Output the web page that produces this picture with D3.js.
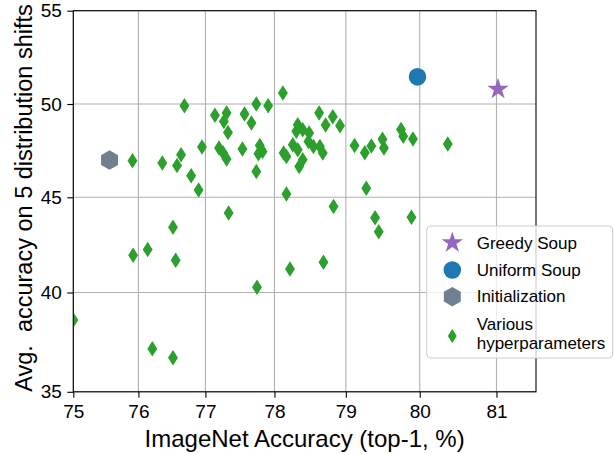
<!DOCTYPE html>
<html><head><meta charset="utf-8">
<script src="https://cdn.jsdelivr.net/npm/d3@7"></script>
<style>
body{margin:0;background:#fff}
svg{display:block}
text{font-family:"Liberation Sans",Arial,sans-serif;fill:#000}
</style>
</head><body>
<svg id="chart" width="614" height="454"></svg>
<script>
// ---- data ----
const hpImageNet = [75.00,75.91,76.36,76.58,76.64,76.69,76.79,76.90,76.95,77.14,77.20,77.26,77.31,77.31,77.27,77.33,77.34,77.54,77.57,77.67,77.74,77.91,77.74,77.79,77.77,77.83,78.12,78.13,78.17,78.17,78.33,78.31,78.40,78.49,78.48,78.55,78.26,78.33,78.64,78.68,78.40,78.35,78.63,78.82,78.72,78.92,79.12,79.26,79.35,79.50,79.52,79.75,79.78,79.91,80.37,79.28,78.83,79.40,79.89,79.45,78.22,78.69,77.75,76.52,76.14,75.92,76.56,76.21,76.52];
const hpShifts   = [38.59,46.95,46.83,46.70,47.27,49.91,46.15,45.39,47.69,49.39,47.63,47.37,47.04,49.52,49.06,48.47,44.16,47.58,49.46,48.98,50.00,49.91,46.38,47.77,47.33,47.45,50.59,47.37,47.18,45.18,48.89,48.53,48.62,48.44,47.99,47.72,47.81,47.54,47.72,47.37,47.01,46.65,49.52,49.32,48.87,48.83,47.77,47.38,47.74,48.11,47.63,48.63,48.26,48.12,47.85,45.48,44.51,43.92,43.94,43.17,41.22,41.57,40.27,43.41,42.24,41.94,41.68,37.14,36.69];
const specialNames    = ["Greedy Soup","Uniform Soup","Initialization"];
const specialImageNet = [81.02, 79.97, 75.56];
const specialShifts   = [50.80, 51.46, 46.99];
const xTicks = [75,76,77,78,79,80,81];
const yTicks = [35,40,45,50,55];
const xDomain = [75, 81.5];
const yDomain = [35, 55];
const legendLabels = ["Greedy Soup","Uniform Soup","Initialization",["Various","hyperparameters"]];

// ---- layout ----
const L = 73.3, R = 536, T = 10.7, B = 391.8;
const logit = p => Math.log((p/100)/(1-p/100));
const inv = v => 100/(1+Math.exp(-v));
const xs = d3.scaleLinear().domain(xDomain.map(logit)).range([L,R]);
const ys = d3.scaleLinear().domain(yDomain.map(logit)).range([B,T]);
const X = v => xs(logit(v)), Y = v => ys(logit(v));

const COL = {green:"#2ca02c", blue:"#1f77b4", purple:"#9467bd", slate:"#708090"};

// symbol types
const thinDiamond = {draw(c,s){const h=s,w=s*0.64;c.moveTo(0,-h/2);c.lineTo(w/2,0);c.lineTo(0,h/2);c.lineTo(-w/2,0);c.closePath();}};
const hexagon = {draw(c,r){for(let k=0;k<6;k++){const a=-Math.PI/2+k*Math.PI/3;const px=r*Math.cos(a),py=r*Math.sin(a);k?c.lineTo(px,py):c.moveTo(px,py);}c.closePath();}};
const star = {draw(c,r){const ri=r*0.381966;for(let k=0;k<10;k++){const a=-Math.PI/2+k*Math.PI/5;const rr=k%2?ri:r;const px=rr*Math.cos(a),py=rr*Math.sin(a);k?c.lineTo(px,py):c.moveTo(px,py);}c.closePath();}};
const circle = {draw(c,r){c.moveTo(r,0);c.arc(0,0,r,0,2*Math.PI);c.closePath();}};

const svg = d3.select("#chart");
svg.append("rect").attr("width",614).attr("height",454).attr("fill","#fff");

svg.append("defs").append("clipPath").attr("id","clip")
  .append("rect").attr("x",L).attr("y",T).attr("width",R-L).attr("height",B-T);

// grid
const grid = svg.append("g").attr("stroke","#b0b0b0").attr("stroke-width",1.1);
grid.selectAll(".gx").data(xTicks).join("line")
  .attr("x1",d=>X(d)).attr("x2",d=>X(d)).attr("y1",T).attr("y2",B);
grid.selectAll(".gy").data(yTicks).join("line")
  .attr("y1",d=>Y(d)).attr("y2",d=>Y(d)).attr("x1",L).attr("x2",R);

// points
const pts = svg.append("g").attr("clip-path","url(#clip)");
pts.selectAll("path.hp").data(hpImageNet.map((v,i)=>[v,hpShifts[i]])).join("path")
  .attr("class","hp")
  .attr("d", d3.symbol().type(thinDiamond).size(15.5)())
  .attr("transform", d=>`translate(${X(d[0])},${Y(d[1])})`)
  .attr("fill", COL.green);

const specialTypes = [star, circle, hexagon];
const specialSizes = [11.3, 8.8, 9.8];
const specialCols = [COL.purple, COL.blue, COL.slate];
pts.selectAll("path.sp").data(specialNames.map((n,i)=>i).reverse()).join("path")
  .attr("class","sp")
  .attr("d", i=>d3.symbol().type(specialTypes[i]).size(specialSizes[i])())
  .attr("transform", i=>`translate(${X(specialImageNet[i])},${Y(specialShifts[i])})`)
  .attr("fill", i=>specialCols[i]);

// axes
const xAxis = d3.axisBottom(xs).tickValues(xTicks.map(logit)).tickFormat(v=>Math.round(inv(v))).tickSize(6).tickPadding(6.5).tickSizeOuter(0);
const yAxis = d3.axisLeft(ys).tickValues(yTicks.map(logit)).tickFormat(v=>Math.round(inv(v))).tickSize(6).tickPadding(5.5).tickSizeOuter(0);
const gx = svg.append("g").attr("transform",`translate(0,${B})`).call(xAxis);
const gy = svg.append("g").attr("transform",`translate(${L},0)`).call(yAxis);
[gx,gy].forEach(g=>{
  g.select(".domain").remove();
  g.selectAll(".tick line").attr("stroke","#000").attr("stroke-width",1.1);
  g.selectAll(".tick text").attr("font-size",19).attr("font-family","Liberation Sans, Arial, sans-serif").attr("fill","#000");
});

// spines
svg.append("rect").attr("x",L).attr("y",T).attr("width",R-L).attr("height",B-T)
  .attr("fill","none").attr("stroke","#000").attr("stroke-width",1.1);

// axis labels
svg.append("text").attr("x",(L+R)/2).attr("y",446.7).attr("text-anchor","middle")
  .attr("font-size",24).text("ImageNet Accuracy (top-1, %)");
svg.append("text").attr("transform",`translate(31.5,198) rotate(-90)`).attr("text-anchor","middle")
  .attr("font-size",23.5).text("Avg.  accuracy on 5 distribution shifts").style("white-space","pre");

// legend
const lg = svg.append("g");
lg.append("rect").attr("x",426.7).attr("y",226).attr("width",186).attr("height",132).attr("rx",4)
  .attr("fill","#fff").attr("fill-opacity",0.8).attr("stroke","#cccccc").attr("stroke-width",1);
const legMarkY = [242.7, 270, 296.7, 336];
const legTypes = [star, circle, hexagon, thinDiamond];
const legSizes = [11.3, 8.8, 9.8, 14];
const legCols = [COL.purple, COL.blue, COL.slate, COL.green];
lg.selectAll("path").data(legendLabels.map((d,i)=>i)).join("path")
  .attr("d", i=>d3.symbol().type(legTypes[i]).size(legSizes[i])())
  .attr("transform", i=>`translate(452.3,${legMarkY[i]})`)
  .attr("fill", i=>legCols[i]);
const legTextY = [249, 276, 302, 330];
legendLabels.forEach((lab,i)=>{
  const t = lg.append("text").attr("x",476.7).attr("y",legTextY[i]).attr("font-size",17);
  if (Array.isArray(lab)) {
    t.append("tspan").attr("x",476.7).text(lab[0]);
    t.append("tspan").attr("x",476.7).attr("dy",18.5).text(lab[1]);
  } else t.text(lab);
});
</script>
</body></html>
